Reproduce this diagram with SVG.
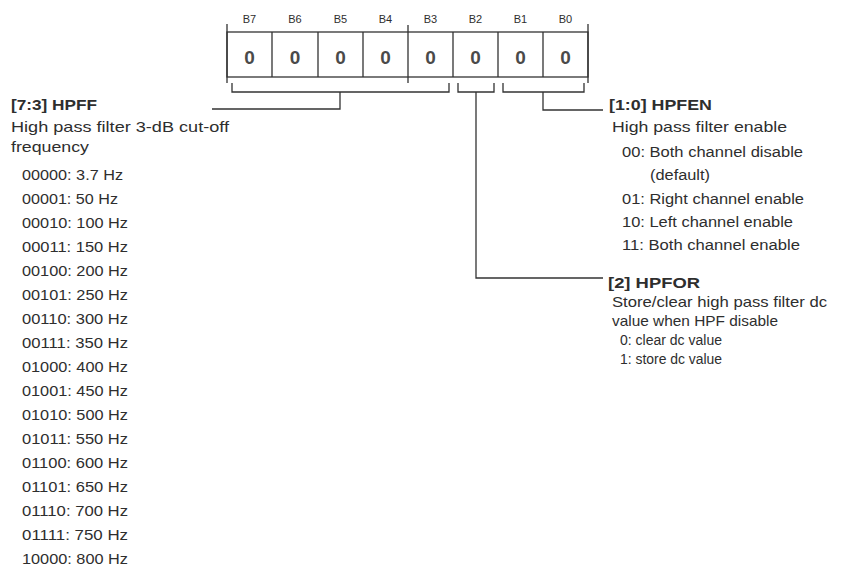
<svg xmlns="http://www.w3.org/2000/svg" width="847" height="567" viewBox="0 0 847 567">
<style>
text{font-family:"Liberation Sans",Arial,sans-serif;fill:#2e2e2e}
.b{font-size:11px;text-anchor:middle}
.v{font-size:19px;font-weight:bold;text-anchor:middle;fill:#4a4a4a}
.h{font-size:15px;font-weight:bold}
.d{font-size:15px}
.l{font-size:14px}
.ln{stroke:#333;stroke-width:1.3;fill:none}
</style>
<rect width="847" height="567" fill="#fff"/>
<g id="register">
<rect class="ln" x="227" y="32" width="361" height="45"/>
<path class="ln" d="M227 24V83M408 25V83M588 24V83M272 32V77M318 32V77M363 32V77M453 32V77M498 32V77M543 32V77"/>
<text class="b" x="249.5" y="23">B7</text>
<text class="b" x="295" y="23">B6</text>
<text class="b" x="340.5" y="23">B5</text>
<text class="b" x="385.5" y="23">B4</text>
<text class="b" x="430.5" y="23">B3</text>
<text class="b" x="475.5" y="23">B2</text>
<text class="b" x="520.5" y="23">B1</text>
<text class="b" x="565.5" y="23">B0</text>
<text class="v" x="249.5" y="64">0</text>
<text class="v" x="295" y="64">0</text>
<text class="v" x="340.5" y="64">0</text>
<text class="v" x="385.5" y="64">0</text>
<text class="v" x="430.5" y="64">0</text>
<text class="v" x="475.5" y="64">0</text>
<text class="v" x="520.5" y="64">0</text>
<text class="v" x="565.5" y="64">0</text>
</g>
<g id="connectors">
<path class="ln" d="M232 83V92H449V83M340 92V109H212"/>
<path class="ln" d="M458 83V92H494V83M476 92V278H603"/>
<path class="ln" d="M503 83V92H584V83M543 92V110H603"/>
</g>
<g id="hpff">
<text class="h" x="11" y="110" textLength="86" lengthAdjust="spacingAndGlyphs">[7:3]  HPFF</text>
<text class="d" x="11" y="132" textLength="218" lengthAdjust="spacingAndGlyphs">High pass filter 3-dB cut-off</text>
<text class="d" x="11" y="152" textLength="78" lengthAdjust="spacingAndGlyphs">frequency</text>
<text class="l" x="22" y="180" textLength="101" lengthAdjust="spacingAndGlyphs">00000: 3.7 Hz</text>
<text class="l" x="22" y="204" textLength="96" lengthAdjust="spacingAndGlyphs">00001: 50 Hz</text>
<text class="l" x="22" y="228" textLength="106" lengthAdjust="spacingAndGlyphs">00010: 100 Hz</text>
<text class="l" x="22" y="252" textLength="106" lengthAdjust="spacingAndGlyphs">00011: 150 Hz</text>
<text class="l" x="22" y="276" textLength="106" lengthAdjust="spacingAndGlyphs">00100: 200 Hz</text>
<text class="l" x="22" y="300" textLength="106" lengthAdjust="spacingAndGlyphs">00101: 250 Hz</text>
<text class="l" x="22" y="324" textLength="106" lengthAdjust="spacingAndGlyphs">00110: 300 Hz</text>
<text class="l" x="22" y="348" textLength="106" lengthAdjust="spacingAndGlyphs">00111: 350 Hz</text>
<text class="l" x="22" y="372" textLength="106" lengthAdjust="spacingAndGlyphs">01000: 400 Hz</text>
<text class="l" x="22" y="396" textLength="106" lengthAdjust="spacingAndGlyphs">01001: 450 Hz</text>
<text class="l" x="22" y="420" textLength="106" lengthAdjust="spacingAndGlyphs">01010: 500 Hz</text>
<text class="l" x="22" y="444" textLength="106" lengthAdjust="spacingAndGlyphs">01011: 550 Hz</text>
<text class="l" x="22" y="468" textLength="106" lengthAdjust="spacingAndGlyphs">01100: 600 Hz</text>
<text class="l" x="22" y="492" textLength="106" lengthAdjust="spacingAndGlyphs">01101: 650 Hz</text>
<text class="l" x="22" y="516" textLength="106" lengthAdjust="spacingAndGlyphs">01110: 700 Hz</text>
<text class="l" x="22" y="540" textLength="106" lengthAdjust="spacingAndGlyphs">01111: 750 Hz</text>
<text class="l" x="22" y="564" textLength="106" lengthAdjust="spacingAndGlyphs">10000: 800 Hz</text>
</g>
<g id="hpfen">
<text class="h" x="609" y="110" textLength="103" lengthAdjust="spacingAndGlyphs">[1:0]  HPFEN</text>
<text class="d" x="612" y="132" textLength="175" lengthAdjust="spacingAndGlyphs">High pass filter enable</text>
<text class="l" x="622" y="157" textLength="181" lengthAdjust="spacingAndGlyphs">00: Both channel disable</text>
<text class="l" x="650" y="180" textLength="60" lengthAdjust="spacingAndGlyphs">(default)</text>
<text class="l" x="622" y="204" textLength="182" lengthAdjust="spacingAndGlyphs">01: Right channel enable</text>
<text class="l" x="622" y="227" textLength="171" lengthAdjust="spacingAndGlyphs">10: Left channel enable</text>
<text class="l" x="622" y="250" textLength="178" lengthAdjust="spacingAndGlyphs">11: Both channel enable</text>
</g>
<g id="hpfor">
<text class="h" x="608" y="288" textLength="92" lengthAdjust="spacingAndGlyphs">[2]  HPFOR</text>
<text class="d" x="612" y="307" textLength="215" lengthAdjust="spacingAndGlyphs">Store/clear high pass filter dc</text>
<text class="d" x="612" y="326" textLength="166" lengthAdjust="spacingAndGlyphs">value when HPF disable</text>
<text class="l" x="620" y="345" textLength="102" lengthAdjust="spacingAndGlyphs">0: clear dc value</text>
<text class="l" x="620" y="364" textLength="102" lengthAdjust="spacingAndGlyphs">1: store dc value</text>
</g>
</svg>
